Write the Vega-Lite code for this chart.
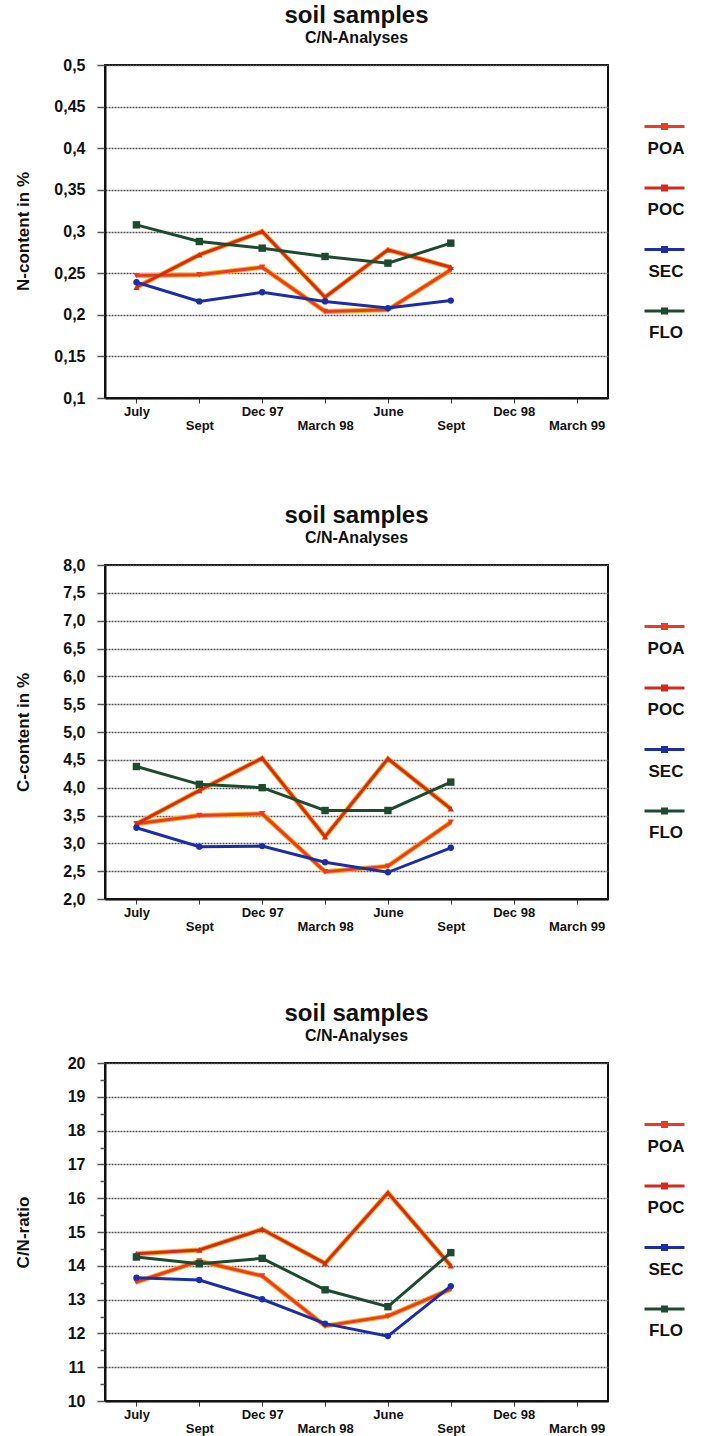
{
  "$schema": "https://vega.github.io/schema/vega-lite/v6.json",
  "background": "white",
  "padding": {"left": 13, "top": 3, "right": 0, "bottom": 0},
  "spacing": 70,
  "config": {
    "font": "Liberation Sans",
    "view": {"stroke": "#111", "strokeWidth": 2},
    "title": {"fontSize": 24, "fontWeight": "bold", "color": "#111", "subtitleFontSize": 16, "subtitleFontWeight": "bold", "subtitleColor": "#111", "subtitleFont": "Liberation Sans", "subtitlePadding": 2, "offset": 11, "anchor": "middle", "frame": "group"},
    "axis": {"labelFont": "Liberation Sans", "labelFontWeight": "bold", "labelColor": "#111", "titleFont": "Liberation Sans", "titleFontWeight": "bold", "titleColor": "#111", "domainColor": "#111", "domainWidth": 2},
    "axisY": {"grid": true, "gridColor": "#555", "gridWidth": 1.5, "gridDash": [2, 1], "tickColor": "#555", "tickWidth": 1.5, "tickSize": 8, "labelPadding": 12, "labelFontSize": 16, "titleFontSize": 17, "titleX": -82, "titleBaseline": "middle", "titleAngle": -90},
    "axisX": {"grid": false, "tickColor": "#333", "tickSize": 5, "tickWidth": 1, "labelFontSize": 13, "labelAngle": 0, "labelOverlap": false, "title": null},
    "legend": {"orient": "none", "legendX": 538, "legendY": 54, "title": null, "symbolSize": 1600, "symbolStrokeWidth": 3, "labelFontSize": 17, "labelFontWeight": "bold", "labelColor": "#111", "labelFont": "Liberation Sans", "labelBaseline": "top", "labelAlign": "center", "labelOffset": -20, "rowPadding": 22.5, "padding": 0}
  },
  "resolve": {"scale": {"color": "independent", "x": "independent", "y": "independent"}, "legend": {"color": "independent"}},
  "datasets": {
    "nitrogen": [
      {"month": "Jul97", "series": "POA", "value": 0.247}, {"month": "Sep97", "series": "POA", "value": 0.248}, {"month": "Dec97", "series": "POA", "value": 0.257}, {"month": "Mar98", "series": "POA", "value": 0.204}, {"month": "Jun98", "series": "POA", "value": 0.206}, {"month": "Sep98", "series": "POA", "value": 0.254},
      {"month": "Jul97", "series": "POC", "value": 0.233}, {"month": "Sep97", "series": "POC", "value": 0.272}, {"month": "Dec97", "series": "POC", "value": 0.300}, {"month": "Mar98", "series": "POC", "value": 0.221}, {"month": "Jun98", "series": "POC", "value": 0.278}, {"month": "Sep98", "series": "POC", "value": 0.257},
      {"month": "Jul97", "series": "SEC", "value": 0.239}, {"month": "Sep97", "series": "SEC", "value": 0.216}, {"month": "Dec97", "series": "SEC", "value": 0.227}, {"month": "Mar98", "series": "SEC", "value": 0.216}, {"month": "Jun98", "series": "SEC", "value": 0.208}, {"month": "Sep98", "series": "SEC", "value": 0.217},
      {"month": "Jul97", "series": "FLO", "value": 0.308}, {"month": "Sep97", "series": "FLO", "value": 0.288}, {"month": "Dec97", "series": "FLO", "value": 0.280}, {"month": "Mar98", "series": "FLO", "value": 0.270}, {"month": "Jun98", "series": "FLO", "value": 0.262}, {"month": "Sep98", "series": "FLO", "value": 0.286}
    ],
    "carbon": [
      {"month": "Jul97", "series": "POA", "value": 3.35}, {"month": "Sep97", "series": "POA", "value": 3.50}, {"month": "Dec97", "series": "POA", "value": 3.53}, {"month": "Mar98", "series": "POA", "value": 2.49}, {"month": "Jun98", "series": "POA", "value": 2.59}, {"month": "Sep98", "series": "POA", "value": 3.38},
      {"month": "Jul97", "series": "POC", "value": 3.35}, {"month": "Sep97", "series": "POC", "value": 3.95}, {"month": "Dec97", "series": "POC", "value": 4.53}, {"month": "Mar98", "series": "POC", "value": 3.12}, {"month": "Jun98", "series": "POC", "value": 4.52}, {"month": "Sep98", "series": "POC", "value": 3.62},
      {"month": "Jul97", "series": "SEC", "value": 3.28}, {"month": "Sep97", "series": "SEC", "value": 2.94}, {"month": "Dec97", "series": "SEC", "value": 2.95}, {"month": "Mar98", "series": "SEC", "value": 2.66}, {"month": "Jun98", "series": "SEC", "value": 2.48}, {"month": "Sep98", "series": "SEC", "value": 2.92},
      {"month": "Jul97", "series": "FLO", "value": 4.38}, {"month": "Sep97", "series": "FLO", "value": 4.06}, {"month": "Dec97", "series": "FLO", "value": 4.00}, {"month": "Mar98", "series": "FLO", "value": 3.59}, {"month": "Jun98", "series": "FLO", "value": 3.59}, {"month": "Sep98", "series": "FLO", "value": 4.10}
    ],
    "ratio": [
      {"month": "Jul97", "series": "POA", "value": 13.52}, {"month": "Sep97", "series": "POA", "value": 14.14}, {"month": "Dec97", "series": "POA", "value": 13.70}, {"month": "Mar98", "series": "POA", "value": 12.22}, {"month": "Jun98", "series": "POA", "value": 12.51}, {"month": "Sep98", "series": "POA", "value": 13.31},
      {"month": "Jul97", "series": "POC", "value": 14.36}, {"month": "Sep97", "series": "POC", "value": 14.47}, {"month": "Dec97", "series": "POC", "value": 15.08}, {"month": "Mar98", "series": "POC", "value": 14.07}, {"month": "Jun98", "series": "POC", "value": 16.16}, {"month": "Sep98", "series": "POC", "value": 14.00},
      {"month": "Jul97", "series": "SEC", "value": 13.65}, {"month": "Sep97", "series": "SEC", "value": 13.58}, {"month": "Dec97", "series": "SEC", "value": 13.01}, {"month": "Mar98", "series": "SEC", "value": 12.29}, {"month": "Jun98", "series": "SEC", "value": 11.92}, {"month": "Sep98", "series": "SEC", "value": 13.40},
      {"month": "Jul97", "series": "FLO", "value": 14.26}, {"month": "Sep97", "series": "FLO", "value": 14.06}, {"month": "Dec97", "series": "FLO", "value": 14.22}, {"month": "Mar98", "series": "FLO", "value": 13.29}, {"month": "Jun98", "series": "FLO", "value": 12.79}, {"month": "Sep98", "series": "FLO", "value": 14.39}
    ]
  },
  "vconcat": [
    {
      "width": 503, "height": 333,
      "title": {"text": "soil samples", "subtitle": "C/N-Analyses"},
      "data": {"name": "nitrogen"},
      "encoding": {
        "x": {"field": "month", "type": "ordinal", "scale": {"type": "point", "padding": 0.5, "domain": ["Jul97", "Sep97", "Dec97", "Mar98", "Jun98", "Sep98", "Dec98", "Mar99"]},
          "axis": {"labelExpr": "{'Jul97':'July','Sep97':'Sept','Dec97':'Dec 97','Mar98':'March 98','Jun98':'June','Sep98':'Sept','Dec98':'Dec 98','Mar99':'March 99'}[datum.value]",
            "labelPadding": {"condition": {"test": "indexof(['Sep97','Mar98','Sep98','Mar99'], datum.value) >= 0", "value": 16}, "value": 2}}},
        "y": {"field": "value", "type": "quantitative", "scale": {"domain": [0.1, 0.5], "nice": false, "zero": false},
          "axis": {"title": "N-content in %", "titleY": 166, "values": [0.1, 0.15, 0.2, 0.25, 0.3, 0.35, 0.4, 0.45, 0.5], "labelExpr": "replace(format(datum.value, '.2~f'), '.', ',')"}}
      },
      "layer": [
        {"transform": [{"filter": "datum.series == 'POA' || datum.series == 'POC'"}], "mark": {"type": "line", "strokeWidth": 5, "color": "#f3b424"}, "encoding": {"detail": {"field": "series", "type": "nominal"}}},
        {"mark": {"type": "line", "strokeWidth": 3},
          "encoding": {"color": {"field": "series", "type": "nominal", "scale": {"domain": ["POA", "POC", "SEC", "FLO"], "range": ["#ee3a22", "#d42a1e", "#1b2ea6", "#1f4a32"]},
            "legend": {"symbolType": "M-1,-0.7H1M-0.1,-0.8H0.1V-0.6H-0.1Z"}}}},
        {"transform": [{"filter": "datum.series == 'POA'"}], "mark": {"type": "point", "shape": "triangle-down", "filled": true, "size": 40, "opacity": 1}, "encoding": {"color": {"field": "series", "type": "nominal", "legend": null}}},
        {"transform": [{"filter": "datum.series == 'POC'"}], "mark": {"type": "point", "shape": "triangle-up", "filled": true, "size": 40, "opacity": 1}, "encoding": {"color": {"field": "series", "type": "nominal", "legend": null}}},
        {"transform": [{"filter": "datum.series == 'SEC'"}], "mark": {"type": "point", "shape": "circle", "filled": true, "size": 40, "opacity": 1}, "encoding": {"color": {"field": "series", "type": "nominal", "legend": null}}},
        {"transform": [{"filter": "datum.series == 'FLO'"}], "mark": {"type": "point", "shape": "square", "filled": true, "size": 55, "opacity": 1}, "encoding": {"color": {"field": "series", "type": "nominal", "legend": null}}}
      ]
    },
    {
      "spacing": 67,
      "resolve": {"scale": {"color": "independent", "x": "independent", "y": "independent"}, "legend": {"color": "independent"}},
      "vconcat": [
        {
          "width": 503, "height": 334,
          "title": {"text": "soil samples", "subtitle": "C/N-Analyses"},
          "data": {"name": "carbon"},
          "encoding": {
            "x": {"field": "month", "type": "ordinal", "scale": {"type": "point", "padding": 0.5, "domain": ["Jul97", "Sep97", "Dec97", "Mar98", "Jun98", "Sep98", "Dec98", "Mar99"]},
              "axis": {"labelExpr": "{'Jul97':'July','Sep97':'Sept','Dec97':'Dec 97','Mar98':'March 98','Jun98':'June','Sep98':'Sept','Dec98':'Dec 98','Mar99':'March 99'}[datum.value]",
                "labelPadding": {"condition": {"test": "indexof(['Sep97','Mar98','Sep98','Mar99'], datum.value) >= 0", "value": 16}, "value": 2}}},
            "y": {"field": "value", "type": "quantitative", "scale": {"domain": [2, 8], "nice": false, "zero": false},
              "axis": {"title": "C-content in %", "titleY": 167, "values": [2, 2.5, 3, 3.5, 4, 4.5, 5, 5.5, 6, 6.5, 7, 7.5, 8], "labelExpr": "replace(format(datum.value, '.1f'), '.', ',')"}}
          },
          "layer": [
            {"transform": [{"filter": "datum.series == 'POA' || datum.series == 'POC'"}], "mark": {"type": "line", "strokeWidth": 5, "color": "#f3b424"}, "encoding": {"detail": {"field": "series", "type": "nominal"}}},
            {"mark": {"type": "line", "strokeWidth": 3},
              "encoding": {"color": {"field": "series", "type": "nominal", "scale": {"domain": ["POA", "POC", "SEC", "FLO"], "range": ["#ee3a22", "#d42a1e", "#1b2ea6", "#1f4a32"]},
                "legend": {"symbolType": "M-1,-0.7H1M-0.1,-0.8H0.1V-0.6H-0.1Z"}}}},
            {"transform": [{"filter": "datum.series == 'POA'"}], "mark": {"type": "point", "shape": "triangle-down", "filled": true, "size": 40, "opacity": 1}, "encoding": {"color": {"field": "series", "type": "nominal", "legend": null}}},
            {"transform": [{"filter": "datum.series == 'POC'"}], "mark": {"type": "point", "shape": "triangle-up", "filled": true, "size": 40, "opacity": 1}, "encoding": {"color": {"field": "series", "type": "nominal", "legend": null}}},
            {"transform": [{"filter": "datum.series == 'SEC'"}], "mark": {"type": "point", "shape": "circle", "filled": true, "size": 40, "opacity": 1}, "encoding": {"color": {"field": "series", "type": "nominal", "legend": null}}},
            {"transform": [{"filter": "datum.series == 'FLO'"}], "mark": {"type": "point", "shape": "square", "filled": true, "size": 55, "opacity": 1}, "encoding": {"color": {"field": "series", "type": "nominal", "legend": null}}}
          ]
        },
        {
          "width": 503, "height": 338,
          "title": {"text": "soil samples", "subtitle": "C/N-Analyses"},
          "data": {"name": "ratio"},
          "encoding": {
            "x": {"field": "month", "type": "ordinal", "scale": {"type": "point", "padding": 0.5, "domain": ["Jul97", "Sep97", "Dec97", "Mar98", "Jun98", "Sep98", "Dec98", "Mar99"]},
              "axis": {"labelExpr": "{'Jul97':'July','Sep97':'Sept','Dec97':'Dec 97','Mar98':'March 98','Jun98':'June','Sep98':'Sept','Dec98':'Dec 98','Mar99':'March 99'}[datum.value]",
                "labelPadding": {"condition": {"test": "indexof(['Sep97','Mar98','Sep98','Mar99'], datum.value) >= 0", "value": 16}, "value": 2}}},
            "y": {"field": "value", "type": "quantitative", "scale": {"domain": [10, 20], "nice": false, "zero": false},
              "axis": {"title": "C/N-ratio", "titleY": 169, "values": [10, 10.5, 11, 11.5, 12, 12.5, 13, 13.5, 14, 14.5, 15, 15.5, 16, 16.5, 17, 17.5, 18, 18.5, 19, 19.5, 20],
                "labelExpr": "datum.value % 1 ? '' : format(datum.value, 'd')",
                "gridOpacity": {"condition": {"test": "datum.value % 1 != 0", "value": 0}, "value": 1},
                "tickSize": {"condition": {"test": "datum.value % 1 != 0", "value": 5}, "value": 8}}}
          },
          "layer": [
            {"transform": [{"filter": "datum.series == 'POA' || datum.series == 'POC'"}], "mark": {"type": "line", "strokeWidth": 5, "color": "#f3b424"}, "encoding": {"detail": {"field": "series", "type": "nominal"}}},
            {"mark": {"type": "line", "strokeWidth": 3},
              "encoding": {"color": {"field": "series", "type": "nominal", "scale": {"domain": ["POA", "POC", "SEC", "FLO"], "range": ["#ee3a22", "#d42a1e", "#1b2ea6", "#1f4a32"]},
                "legend": {"symbolType": "M-1,-0.7H1M-0.1,-0.8H0.1V-0.6H-0.1Z"}}}},
            {"transform": [{"filter": "datum.series == 'POA'"}], "mark": {"type": "point", "shape": "triangle-down", "filled": true, "size": 40, "opacity": 1}, "encoding": {"color": {"field": "series", "type": "nominal", "legend": null}}},
            {"transform": [{"filter": "datum.series == 'POC'"}], "mark": {"type": "point", "shape": "triangle-up", "filled": true, "size": 40, "opacity": 1}, "encoding": {"color": {"field": "series", "type": "nominal", "legend": null}}},
            {"transform": [{"filter": "datum.series == 'SEC'"}], "mark": {"type": "point", "shape": "circle", "filled": true, "size": 40, "opacity": 1}, "encoding": {"color": {"field": "series", "type": "nominal", "legend": null}}},
            {"transform": [{"filter": "datum.series == 'FLO'"}], "mark": {"type": "point", "shape": "square", "filled": true, "size": 55, "opacity": 1}, "encoding": {"color": {"field": "series", "type": "nominal", "legend": null}}}
          ]
        }
      ]
    }
  ]
}
